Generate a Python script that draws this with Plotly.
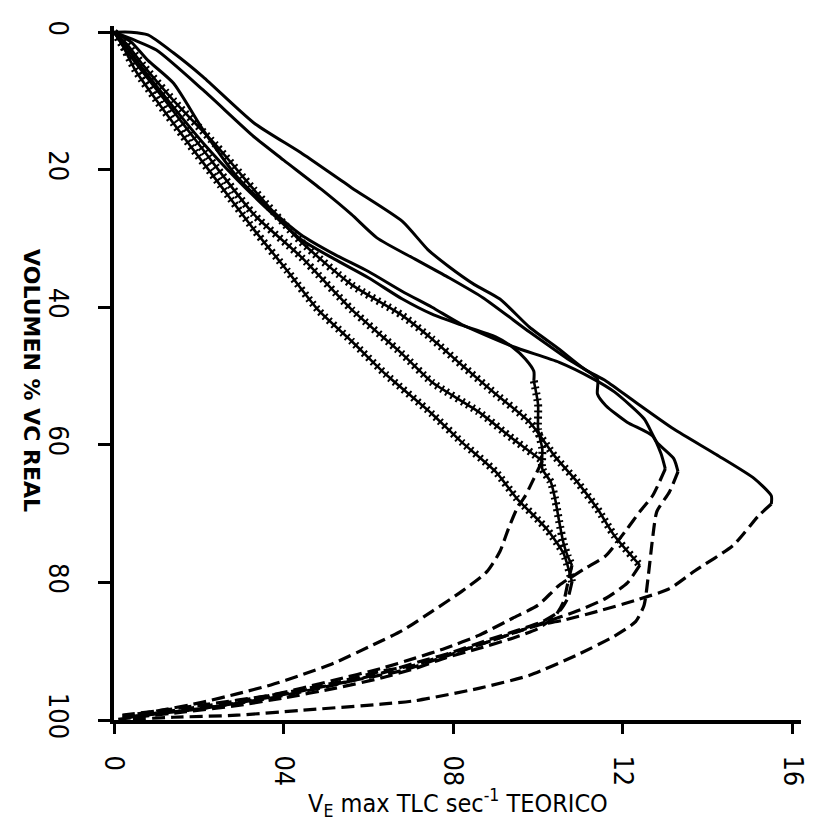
import plotly.graph_objects as go

# ---------------- data (flow in TLC/s vs volume % VC) ----------------
# Solid limbs
s1_x = [0, 0.04, 0.08, 0.14, 0.21, 0.33, 0.44, 0.56, 0.68, 0.74, 0.79, 0.85, 0.91, 0.98, 1.05, 1.11, 1.16, 1.23, 1.32, 1.42, 1.51, 1.55, 1.55]
s1_v = [0, 0, 0.4, 3.0, 6.5, 13.2, 17.5, 22.6, 27.5, 31.6, 34.1, 36.7, 38.8, 42.9, 46.1, 49.0, 50.7, 53.8, 57.7, 61.4, 64.9, 67.4, 68.6]

s2_x = [0, 0.05, 0.10, 0.21, 0.33, 0.40, 0.49, 0.56, 0.62, 0.71, 0.79, 0.87, 0.98, 1.07, 1.14, 1.14, 1.16, 1.21, 1.27, 1.29, 1.30]
s2_v = [0, 1.2, 2.6, 8.4, 15.2, 18.6, 22.9, 26.5, 29.9, 33.0, 35.7, 38.6, 43.6, 47.5, 50.4, 52.6, 54.3, 56.7, 58.7, 61.3, 63.5]

s3_x = [0, 0.04, 0.08, 0.14, 0.21, 0.29, 0.37, 0.44, 0.52, 0.60, 0.68, 0.75, 0.82, 0.94, 1.05, 1.13, 1.18, 1.25, 1.28, 1.32, 1.33]
s3_v = [0, 1.4, 4.1, 7.4, 14.2, 21.0, 25.8, 29.4, 32.3, 34.8, 37.7, 40.0, 42.5, 45.7, 48.0, 50.4, 52.3, 56.2, 59.6, 62.0, 63.9]

s4_x = [0, 0.03, 0.07, 0.14, 0.21, 0.29, 0.37, 0.44, 0.52, 0.60, 0.68, 0.75, 0.82, 0.90, 0.94, 0.97, 0.99, 0.99]
s4_v = [0, 2.2, 5.5, 10.9, 16.1, 21.4, 26.2, 30.1, 33.0, 35.7, 38.8, 41.0, 42.6, 44.3, 45.8, 47.5, 49.3, 50.7]

# Hatched limbs
s4h_x = [0.99, 1.00, 1.00, 1.01, 1.01, 1.03, 1.04, 1.05, 1.06, 1.07, 1.08]
s4h_v = [50.7, 54.1, 57.7, 60.6, 63.5, 65.4, 67.8, 71.2, 74.3, 76.2, 77.5]

h1_x = [0, 0.02, 0.05, 0.10, 0.17, 0.25, 0.33, 0.41, 0.48, 0.56, 0.64, 0.75, 0.82, 0.90, 0.95, 1.02, 1.06, 1.08]
h1_v = [0, 1.9, 5.5, 9.9, 15.7, 22.2, 28.7, 34.8, 40.3, 44.9, 49.7, 55.5, 59.6, 63.9, 67.8, 72.2, 75.8, 79.9]

h2_x = [0, 0.02, 0.06, 0.12, 0.21, 0.33, 0.44, 0.56, 0.68, 0.75, 0.86, 0.94, 1.01]
h2_v = [0, 1.9, 5.2, 9.9, 17.1, 26.5, 32.6, 40.3, 46.8, 50.9, 55.2, 59.1, 62.3]

h3_x = [0, 0.03, 0.07, 0.14, 0.24, 0.33, 0.44, 0.56, 0.68, 0.75, 0.82, 0.90, 0.98, 1.04, 1.09, 1.14, 1.18, 1.24]
h3_v = [0, 1.7, 4.9, 9.9, 16.4, 22.9, 30.4, 36.7, 41.2, 44.6, 48.4, 52.6, 56.7, 61.7, 65.2, 69.3, 73.2, 77.5]

# Dashed return limbs
r1_x = [1.55, 1.52, 1.46, 1.37, 1.31, 1.23, 1.14, 1.06, 1.00, 0.94, 0.86, 0.78, 0.71, 0.63, 0.52, 0.37, 0.21, 0.10, 0.02]
r1_v = [68.6, 70.3, 74.6, 78.3, 80.9, 82.6, 84.2, 85.5, 86.2, 87.4, 89.1, 90.6, 92.0, 92.9, 94.6, 96.4, 97.8, 98.7, 99.3]

r2_x = [1.30, 1.27, 1.24, 1.21, 1.16, 1.11, 1.05, 1.00, 0.94, 0.86, 0.78, 0.71, 0.63, 0.52, 0.37, 0.21, 0.10, 0.02]
r2_v = [63.5, 67.4, 69.7, 72.2, 76.1, 78.0, 80.4, 83.3, 85.2, 87.7, 89.6, 91.0, 92.5, 94.2, 96.4, 98.0, 99.0, 99.7]

r3_x = [1.33, 1.31, 1.28, 1.27, 1.26, 1.25, 1.23, 1.18, 1.09, 0.98, 0.86, 0.71, 0.63, 0.44, 0.29, 0.14, 0.04]
r3_v = [63.9, 66.8, 69.7, 73.6, 79.0, 83.3, 85.7, 87.8, 90.6, 93.5, 95.4, 97.2, 97.7, 98.6, 99.3, 99.6, 99.9]

r4_x = [1.08, 1.07, 1.06, 1.04, 1.00, 0.94, 0.86, 0.78, 0.71, 0.63, 0.52, 0.40, 0.28, 0.17, 0.05, 0.01]
r4_v = [77.5, 80.1, 82.8, 84.9, 86.7, 88.1, 89.6, 91.0, 92.5, 93.9, 95.4, 96.8, 98.0, 98.8, 99.6, 99.9]

rh1_x = [1.08, 1.07, 1.05, 1.01, 0.95, 0.88, 0.79, 0.71, 0.63, 0.52, 0.37, 0.21, 0.10, 0.02]
rh1_v = [79.9, 82.3, 84.2, 85.7, 87.0, 88.4, 90.3, 91.7, 93.2, 94.9, 96.8, 98.3, 99.1, 99.7]

rh2_x = [1.01, 0.99, 0.97, 0.95, 0.93, 0.91, 0.88, 0.82, 0.75, 0.68, 0.61, 0.52, 0.44, 0.37, 0.29, 0.21, 0.10, 0.02]
rh2_v = [62.3, 64.9, 67.4, 69.3, 72.2, 75.5, 78.4, 81.3, 84.2, 87.0, 89.1, 91.7, 93.5, 94.9, 96.2, 97.4, 98.7, 99.4]

rh3_x = [1.24, 1.21, 1.16, 1.09, 1.02, 0.94, 0.86, 0.77, 0.68, 0.56, 0.44, 0.33, 0.21, 0.10, 0.02]
rh3_v = [77.5, 80.1, 82.3, 84.2, 85.7, 87.4, 89.1, 91.0, 92.8, 94.3, 95.8, 97.1, 98.3, 99.1, 99.7]

x_ticks = [0, 0.4, 0.8, 1.2, 1.6]
x_ticktext = ["0", "04", "08", "12", "16"]
y_ticks = [0, 20, 40, 60, 80, 100]
y_ticktext = ["0", "20", "40", "60", "80", "100"]

# ---------------- figure ----------------
fig = go.Figure()

def solid(x, y):
    fig.add_trace(go.Scatter(x=x, y=y, mode="lines", showlegend=False, hoverinfo="skip",
                             line=dict(color="black", width=3, shape="spline", smoothing=0.6)))

def hatched(x, y):
    fig.add_trace(go.Scatter(x=x, y=y, mode="lines", showlegend=False, hoverinfo="skip",
                             line=dict(color="black", width=2.6, shape="spline", smoothing=0.6)))
    fig.add_trace(go.Scatter(x=x, y=y, mode="lines", showlegend=False, hoverinfo="skip",
                             line=dict(color="black", width=8, dash="2px,4px", shape="spline", smoothing=0.6)))

def dashed(x, y):
    fig.add_trace(go.Scatter(x=x, y=y, mode="lines", showlegend=False, hoverinfo="skip",
                             line=dict(color="black", width=3.2, dash="13px,6px", shape="spline", smoothing=0.6)))

for x, y in [(s1_x, s1_v), (s2_x, s2_v), (s3_x, s3_v), (s4_x, s4_v)]:
    solid(x, y)
for x, y in [(s4h_x, s4h_v), (h1_x, h1_v), (h2_x, h2_v), (h3_x, h3_v)]:
    hatched(x, y)
for x, y in [(r1_x, r1_v), (r2_x, r2_v), (r3_x, r3_v), (r4_x, r4_v),
             (rh1_x, rh1_v), (rh2_x, rh2_v), (rh3_x, rh3_v)]:
    dashed(x, y)

font_family = "DejaVu Sans Condensed, DejaVu Sans, sans-serif"
tickfont = dict(family=font_family, size=27, color="black")

fig.update_xaxes(range=[0, 1.62], tickvals=x_ticks, ticktext=x_ticktext, tickangle=90,
                 ticks="outside", ticklen=10, tickwidth=2.5, tickcolor="black",
                 showline=True, linewidth=4, linecolor="black", showgrid=False, zeroline=False,
                 tickfont=tickfont, ticklabelstandoff=16)
fig.update_yaxes(range=[100, -0.9], tickvals=y_ticks, ticktext=y_ticktext, tickangle=90,
                 ticks="outside", ticklen=12, tickwidth=2.5, tickcolor="black",
                 showline=True, linewidth=4, linecolor="black", showgrid=False, zeroline=False,
                 tickfont=tickfont, ticklabelstandoff=17)

fig.add_annotation(xref="paper", yref="paper", x=0.5, y=-0.119, xanchor="center", yanchor="middle",
                   text="V<sub>E</sub> max TLC sec<sup>-1</sup> TEORICO", showarrow=False,
                   font=dict(family=font_family, size=25, color="black"))
fig.add_annotation(xref="paper", yref="paper", x=-0.12, y=0.489, xanchor="center", yanchor="middle",
                   text="<b>VOLUMEN % VC REAL</b>", textangle=90, showarrow=False,
                   font=dict(family="DejaVu Sans, sans-serif", size=22, color="black"))

fig.update_layout(width=813, height=826, margin=dict(l=106, r=12, t=16, b=114),
                  plot_bgcolor="white", paper_bgcolor="white", showlegend=False)

fig.write_html("out.html")
